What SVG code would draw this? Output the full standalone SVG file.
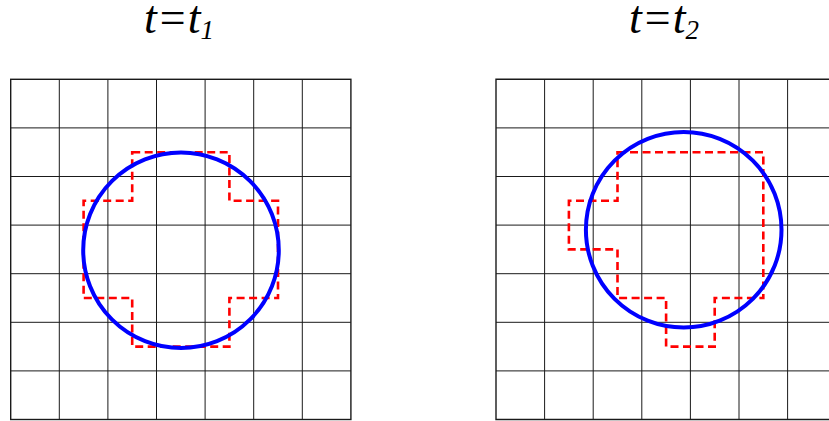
<svg xmlns="http://www.w3.org/2000/svg" width="829" height="421" viewBox="0 0 829 421">
<style>
.grid{stroke:#1a1a1a;stroke-width:1;fill:none}
.cells{stroke:#1a1a1a;stroke-width:1.4;fill:none}
.circ{stroke:#0000ff;stroke-width:4;fill:none}
.dash{stroke:#ff0000;stroke-width:2.6;fill:none;stroke-dasharray:8 4.5}
.title{font-family:"Liberation Serif","Times New Roman",serif;font-style:italic;font-size:46px;fill:#000}
.sub{font-size:27px}
</style>
<rect width="829" height="421" fill="#fff"/>
<g id="title-t1"><text class="title" x="144" y="33">t=t<tspan class="sub" dy="6">1</tspan></text></g>
<g id="title-t2"><text class="title" x="629" y="33">t=t<tspan class="sub" dy="6">2</tspan></text></g>
<g id="grid-left" class="grid">
<rect class="cells" x="10.7" y="79.3" width="340.2" height="340.2"/>
<path d="M59.3,79.3V419.5M107.9,79.3V419.5M156.5,79.3V419.5M205.1,79.3V419.5M253.7,79.3V419.5M302.3,79.3V419.5M10.7,127.9H350.9M10.7,176.5H350.9M10.7,225.1H350.9M10.7,273.7H350.9M10.7,322.3H350.9M10.7,370.9H350.9"/>
</g>
<g id="grid-right" class="grid">
<path class="cells" d="M836.2,79.3H496V419.5H836.2"/>
<path d="M544.6,79.3V419.5M593.2,79.3V419.5M641.8,79.3V419.5M690.4,79.3V419.5M739,79.3V419.5M787.6,79.3V419.5M496,127.9H836M496,176.5H836M496,225.1H836M496,273.7H836M496,322.3H836M496,370.9H836"/>
</g>
<g id="cells-left"><path class="dash" d="M132.2,152.2H229.4V200.8H278V298H229.4V346.6H132.2V298H83.6V200.8H132.2Z"/></g>
<g id="cells-right"><path class="dash" d="M617.5,152.2H763.3V298H714.7V346.6H666.1V298H617.5V249.4H568.9V200.8H617.5Z"/></g>
<g id="circle-left"><circle class="circ" cx="181" cy="250.3" r="97.8"/></g>
<g id="circle-right"><circle class="circ" cx="683.7" cy="229.8" r="97.8"/></g>
</svg>
